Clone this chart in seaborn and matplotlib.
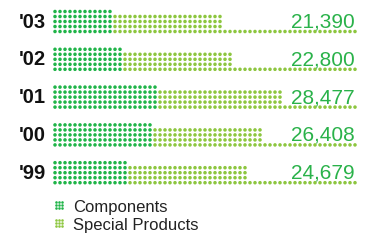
import pandas as pd
import matplotlib.pyplot as plt
import seaborn as sns

# chart data
years = ["'03", "'02", "'01", "'00", "'99"]
components = [7500, 8750, 13125, 12500, 9375]
totals = [21390, 22800, 28477, 26408, 24679]
special = [t - c for t, c in zip(totals, components)]
series_names = ['Components', 'Special Products']

dark_green = '#1fb448'
light_green = '#8dc63f'
text_green = '#2ab24a'

sns.set_style('white')
plt.rcParams['font.family'] = ['Liberation Sans', 'DejaVu Sans']

unit = 625          # value of one dot column
row_step = 5 / 37.8  # dot row spacing in y units
n_baseline = 61      # dotted baseline length in dots


def px_x(px):
    # pixel column -> data x
    return (px - 55) * 125


def px_y(py):
    # pixel row -> data y
    return (py - 21.5) / 37.8


# build one row per dot
dots = []
for i, (c, s) in enumerate(zip(components, special)):
    n_c = round(c / unit)
    n_t = round((c + s) / unit)
    for j in range(n_c):
        for r in range(-2, 3):
            dots.append((j * unit, i + r * row_step, series_names[0]))
    for j in range(n_c, n_t):
        for r in range(-1, 3):
            dots.append((j * unit, i + r * row_step, series_names[1]))
    for j in range(n_t, n_baseline):
        dots.append((j * unit, i + 2 * row_step, series_names[1]))
df = pd.DataFrame(dots, columns=['x', 'y', 'series'])

fig = plt.figure(figsize=(3.65, 2.41), dpi=100)
ax = fig.add_axes([0, 0, 1, 1])
sns.scatterplot(data=df, x='x', y='y', hue='series',
                palette={series_names[0]: dark_green, series_names[1]: light_green},
                s=6.5, linewidth=0, legend=False, ax=ax)

ax.set_xlim(px_x(0), px_x(365))
ax.set_ylim(px_y(241), px_y(0))
ax.axis('off')

# year labels and totals
for i, (yr, t) in enumerate(zip(years, totals)):
    base = i + 6 / 37.8
    ax.text(px_x(46), base, yr, ha='right', va='baseline',
            fontsize=14.5, fontweight='bold', color='#111111')
    ax.text(px_x(355), base, f'{t:,}', ha='right', va='baseline',
            fontsize=15, color=text_green)

# legend with small dot icons
for k, (name, col) in enumerate(zip(series_names, [dark_green, light_green])):
    base_px = 212 + k * 18
    for a in range(3):
        for b in range(3):
            ax.scatter(px_x(55.5 + a * 3), px_y(base_px - 10 + b * 3),
                       s=3.5, color=col, linewidth=0)
    ax.text(px_x(73), px_y(base_px), name, ha='left', va='baseline',
            fontsize=12, color='#222222')

fig.savefig('out.png', dpi=100)
